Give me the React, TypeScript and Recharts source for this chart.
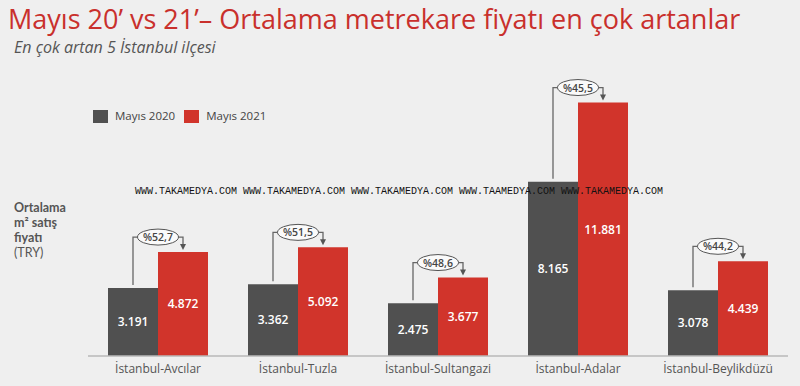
import React from 'react';
import { BarChart, Bar, XAxis, YAxis, LabelList } from 'recharts';

const districts = ['İstanbul-Avcılar', 'İstanbul-Tuzla', 'İstanbul-Sultangazi', 'İstanbul-Adalar', 'İstanbul-Beylikdüzü'];
const may2020 = [3191, 3362, 2475, 8165, 3078];
const may2021 = [4872, 5092, 3677, 11881, 4439];
const increaseLabels = ['%52,7', '%51,5', '%48,6', '%45,5', '%44,2'];
const seriesNames = ['Mayıs 2020', 'Mayıs 2021'];
const yLabelLines = ['Ortalama', 'm² satış', 'fiyatı', '(TRY)'];

const GREY = '#505050';
const RED = '#d1342b';
const BG = '#efefef';

const data = districts.map((d, i) => ({ name: d, y2020: may2020[i], y2021: may2021[i] }));

const fmt = (n: number) => String(n).replace(/\B(?=(\d{3})+(?!\d))/g, '.');

const Bracket = (props: any) => {
  const { x, y, width, height, index } = props;
  if (x == null || index == null) return null;
  const gx = x - width / 2;
  const rx = x + width / 2;
  const gTop = y + height - (may2020[index] * height) / may2021[index];
  const topY = y - 15;
  return (
    <g>
      <path d={`M${gx},${gTop - 3} V${topY} H${rx} V${y - 7}`} fill="none" stroke="#666" strokeWidth={1.3} />
      <path d={`M${rx - 3},${y - 8} L${rx + 3},${y - 8} L${rx},${y - 2} Z`} fill="#555" />
      <ellipse cx={x} cy={topY} rx={20.5} ry={8} fill="#fafafa" stroke="#555" strokeWidth={1} />
      <text x={x} y={topY} textAnchor="middle" dominantBaseline="central" fontSize={10.5} fontWeight={600} fill="#444" fontFamily="Open Sans">
        {increaseLabels[index]}
      </text>
    </g>
  );
};

export default function App() {
  return (
    <div style={{ position: 'absolute', left: 0, top: 0, width: 800, height: 386, background: BG, overflow: 'hidden', fontFamily: 'Open Sans' }}>
      <div style={{ position: 'absolute', left: 8, top: 0.5, fontSize: 27, lineHeight: '36px', color: '#c9302c', whiteSpace: 'nowrap', letterSpacing: 0 }}>
        Mayıs 20’ vs 21’– Ortalama metrekare fiyatı en çok artanlar
      </div>
      <div style={{ position: 'absolute', left: 14, top: 37, fontSize: 16, lineHeight: '20px', fontStyle: 'italic', color: '#555', whiteSpace: 'nowrap' }}>
        En çok artan 5 İstanbul ilçesi
      </div>
      <div style={{ position: 'absolute', left: 14, top: 200, fontSize: 12.5, fontFamily: 'Lato', color: '#555', lineHeight: '15px' }}>
        {yLabelLines.map((t, i) => (
          <div key={t} style={{ fontWeight: i < 3 ? 700 : 400, height: 15 }}>{t}</div>
        ))}
      </div>
      <div style={{ position: 'absolute', left: 93, top: 109, display: 'flex', alignItems: 'center', fontSize: 11.5, color: '#444', lineHeight: '14px' }}>
        <span style={{ width: 15, height: 13, background: GREY, display: 'inline-block', marginRight: 7 }} />
        <span style={{ marginRight: 9 }}>{seriesNames[0]}</span>
        <span style={{ width: 15, height: 13, background: RED, display: 'inline-block', marginRight: 7 }} />
        <span>{seriesNames[1]}</span>
      </div>
      <BarChart width={800} height={386} data={data} margin={{ top: 100, right: 12, bottom: 0, left: 88 }} barCategoryGap={20} barGap={0}>
        <XAxis dataKey="name" axisLine={{ stroke: '#b8b8b8', strokeWidth: 1.5 }} tickLine={false} height={30} tick={{ fill: '#555', fontSize: 12, fontFamily: 'Open Sans' }} interval={0} />
        <YAxis hide domain={[0, 12000]} />
        <Bar dataKey="y2020" name={seriesNames[0]} fill={GREY} isAnimationActive={false}>
          <LabelList dataKey="y2020" position="center" formatter={(v: any) => fmt(Number(v))} fill="#fff" fontSize={12} fontWeight={600} fontFamily="Open Sans" />
        </Bar>
        <Bar dataKey="y2021" name={seriesNames[1]} fill={RED} isAnimationActive={false}>
          <LabelList dataKey="y2021" position="center" formatter={(v: any) => fmt(Number(v))} fill="#fff" fontSize={12} fontWeight={600} fontFamily="Open Sans" />
          <LabelList dataKey="y2021" content={<Bracket />} />
        </Bar>
      </BarChart>
      <div style={{ position: 'absolute', left: 135, top: 186, fontFamily: 'Liberation Mono', fontSize: 10, lineHeight: '12px', color: '#111', whiteSpace: 'pre', pointerEvents: 'none' }}>
        WWW.TAKAMEDYA.COM WWW.TAKAMEDYA.COM WWW.TAKAMEDYA.COM WWW.TAAMEDYA.COM WWW.TAKAMEDYA.COM
      </div>
    </div>
  );
}
